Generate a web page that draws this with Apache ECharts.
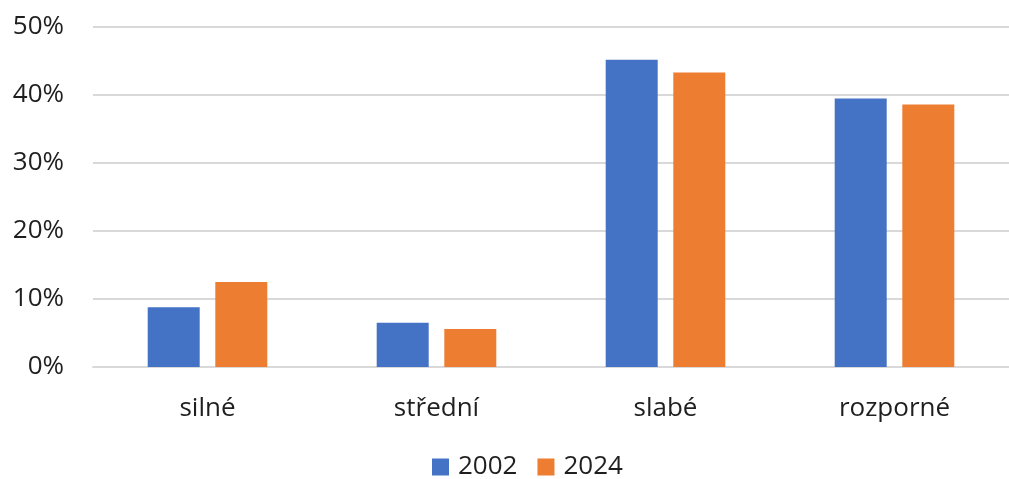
<!DOCTYPE html>
<html>
<head>
<meta charset="utf-8">
<script src="https://cdn.jsdelivr.net/npm/echarts@6/dist/echarts.min.js"></script>
<style>
  html, body { margin: 0; padding: 0; background: #fff; }
  #chart { width: 1009px; height: 479px; }
</style>
</head>
<body>
<div id="chart"></div>
<script>
const categories = ['silné', 'střední', 'slabé', 'rozporné']
const values2002 = [8.8, 6.5, 45.2, 39.5]
const values2024 = [12.5, 5.6, 43.3, 38.6]
const seriesNames = ['2002', '2024']

const font = '"Open Sans", "Noto Sans", sans-serif'
const textColor = '#1f1f1f'

let myChart = echarts.init(document.getElementById('chart'), null, { renderer: 'canvas' })

myChart.setOption({
  animation: false,
  textStyle: { fontFamily: font },
  grid: { left: 93, right: 0, top: 27, bottom: 112, containLabel: false },
  legend: {
    data: seriesNames,
    bottom: -6,
    left: 427,
    itemWidth: 17,
    itemHeight: 17,
    itemGap: 20,
    icon: 'rect',
    textStyle: { fontSize: 26, color: textColor, fontFamily: font, padding: [0, 0, 0, 4] }
  },
  xAxis: {
    type: 'category',
    data: categories,
    axisTick: { show: false },
    axisLine: { lineStyle: { color: '#d9d9d9', width: 2 } },
    axisLabel: { fontSize: 26, color: textColor, margin: 29, fontFamily: font }
  },
  yAxis: {
    type: 'value',
    min: 0,
    max: 50,
    interval: 10,
    axisLine: { show: false },
    axisTick: { show: false },
    splitLine: { lineStyle: { color: '#d9d9d9', width: 2 } },
    axisLabel: { fontSize: 26, color: textColor, margin: 29, formatter: '{value}%', fontFamily: font }
  },
  series: [
    {
      name: seriesNames[0],
      type: 'bar',
      data: values2002,
      barWidth: 52,
      barGap: '30%',
      itemStyle: { color: '#4472c4' }
    },
    {
      name: seriesNames[1],
      type: 'bar',
      data: values2024,
      barWidth: 52,
      itemStyle: { color: '#ed7d31' }
    }
  ]
})
</script>
</body>
</html>
